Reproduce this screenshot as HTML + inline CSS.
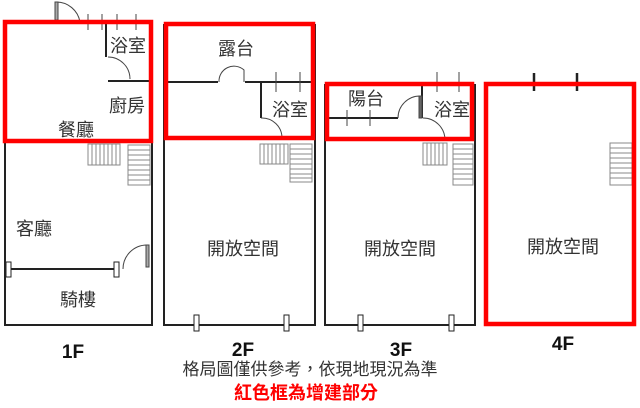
<!DOCTYPE html>
<html><head><meta charset="utf-8"><style>
html,body{margin:0;padding:0;background:#fff;width:640px;height:408px;overflow:hidden}
svg{display:block}
text{font-family:"Liberation Sans","Noto Sans CJK TC",sans-serif;fill:#333}
</style></head><body>
<svg width="640" height="408" viewBox="0 0 640 408" xmlns="http://www.w3.org/2000/svg">
<g stroke="#222" stroke-width="2" fill="none">
  <path d="M5 22 V325 H152 V22"/>
  <path d="M8 269 H118"/>
  <path d="M106 22 V57"/>
  <path d="M108 81 H151"/>
  <path d="M164 24 V325 H315 V24"/>
  <path d="M167 82 H218 M245 82 H313"/>
  <path d="M261 82 V118"/>
  <path d="M325 84 V325 H475 V84"/>
  <path d="M328 118 H398"/>
  <path d="M422 84 V118"/>
</g>
<g stroke="#444" stroke-width="1" fill="none">
  <path d="M56 20 V2 A24 24 0 0 1 80 22"/><rect x="55" y="2" width="3" height="18" fill="#aaa"/>
  <path d="M108 57 A22 22 0 0 1 130 79"/>
  <path d="M123 269 A24 24 0 0 1 147 245"/><rect x="146" y="245" width="3" height="22" fill="#aaa"/>
  <path d="M219 82 A15 15 0 0 1 244 70 V82"/>
  <path d="M261 118 A20 20 0 0 1 282 138"/>
  <path d="M398 118 A22 22 0 0 1 420 96"/><rect x="419" y="96" width="3" height="22" fill="#666"/>
  <path d="M423 118 A22 22 0 0 1 445 140"/>
  <path d="M88 14 V30 M102 14 V30 M117 14 V30 M136 14 V30"/>
  <path d="M276 72 V92 M300 72 V92"/>
  <path d="M437 72 V92 M459 72 V92 M347 110 V126 M370 110 V126"/>
  <rect x="6" y="262" width="5" height="15" fill="#fff" stroke="#222"/>
  <rect x="114" y="262" width="5" height="15" fill="#fff" stroke="#222"/>
  <rect x="194" y="315" width="5" height="16" fill="#fff" stroke="#222"/>
  <rect x="284" y="315" width="5" height="16" fill="#fff" stroke="#222"/>
  <rect x="358" y="315" width="5" height="16" fill="#fff" stroke="#222"/>
  <rect x="449" y="315" width="5" height="16" fill="#fff" stroke="#222"/>
</g>
<g stroke="#222" stroke-width="2.5">
  <path d="M534 73 V91 M577 73 V91"/>
</g>
<g stroke="#888" stroke-width="1" fill="none">
  <rect x="88" y="144" width="32" height="21"/>
  <path d="M92 144V165M96 144V165M100 144V165M104 144V165M108 144V165M112 144V165M116 144V165"/>
  <rect x="128" y="145" width="22" height="40"/>
  <path d="M128 150H150M128 155H150M128 160H150M128 165H150M128 170H150M128 175H150M128 180H150"/>
  <rect x="260" y="144" width="28" height="20"/>
  <path d="M264 144V164M268 144V164M272 144V164M276 144V164M280 144V164M284 144V164"/>
  <rect x="290" y="144" width="22" height="38"/>
  <path d="M290 149H312M290 154H312M290 159H312M290 164H312M290 169H312M290 174H312M290 178H312"/>
  <rect x="423" y="143" width="24" height="22"/>
  <path d="M427 143V165M431 143V165M435 143V165M439 143V165M443 143V165"/>
  <rect x="453" y="144" width="20" height="41"/>
  <path d="M453 149H473M453 154H473M453 159H473M453 164H473M453 169H473M453 174H473M453 179H473"/>
  <rect x="610" y="143" width="22" height="42"/>
  <path d="M610 148H632M610 153H632M610 158H632M610 163H632M610 168H632M610 173H632M610 178H632"/>
</g>
<g stroke="#f00" stroke-width="4.5" fill="none">
  <rect x="5" y="22" width="146" height="119"/>
  <rect x="166" y="24" width="147" height="114"/>
  <rect x="327" y="84" width="145" height="55"/>
  <rect x="486" y="84" width="148" height="240"/>
</g>
<g font-size="18" text-anchor="middle">
  <text x="128" y="52">浴室</text>
  <text x="127" y="112">廚房</text>
  <text x="76" y="136">餐廳</text>
  <text x="34" y="235">客廳</text>
  <text x="78" y="306">騎樓</text>
  <text x="236" y="55">露台</text>
  <text x="290" y="116">浴室</text>
  <text x="366" y="105">陽台</text>
  <text x="452" y="116">浴室</text>
  <text x="243" y="255">開放空間</text>
  <text x="400" y="255">開放空間</text>
  <text x="563" y="253">開放空間</text>
</g>
<g font-size="19" font-weight="bold" text-anchor="middle">
  <text x="73" y="358" style="fill:#111">1F</text>
  <text x="243" y="356" style="fill:#111">2F</text>
  <text x="401" y="356" style="fill:#111">3F</text>
  <text x="563" y="350" style="fill:#111">4F</text>
</g>
<text x="310" y="375" font-size="17" text-anchor="middle">格局圖僅供參考，依現地現況為準</text>
<text x="306" y="399" font-size="18" font-weight="bold" text-anchor="middle" style="fill:#f00">紅色框為增建部分</text>
</svg>
</body></html>
